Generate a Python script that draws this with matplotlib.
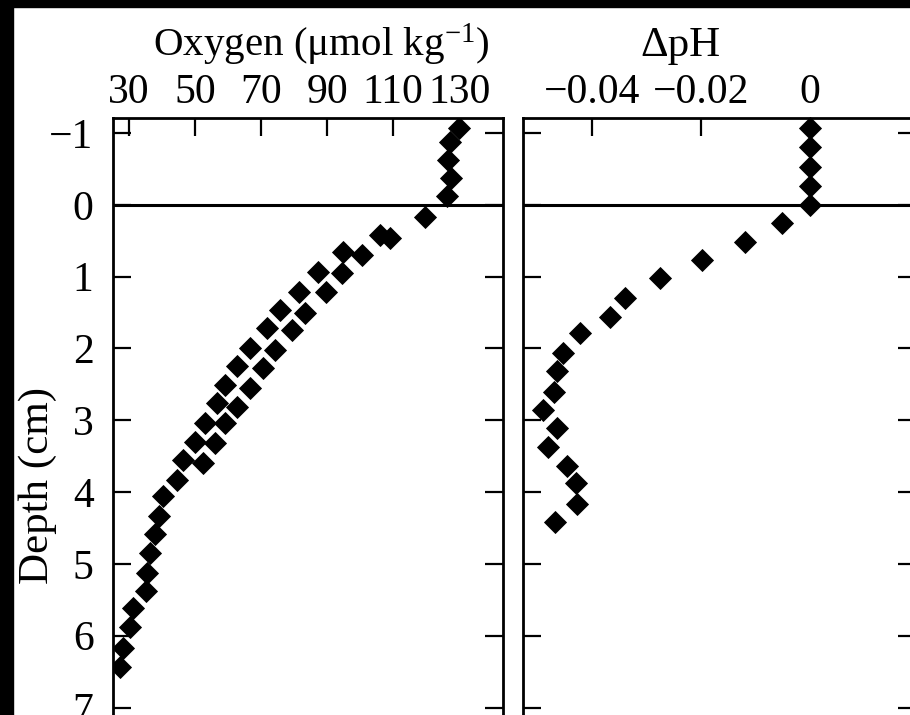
import matplotlib
matplotlib.use("Agg")
import matplotlib.pyplot as plt
from matplotlib.patches import Rectangle

# oxygen profile (two interleaved series, same marker)
depth_o2 = [-1.07, -0.88, -0.63, -0.37, -0.12, 0.17, 0.42, 0.46, 0.65, 0.70,
            0.93, 0.95, 1.21, 1.22, 1.46, 1.51, 1.72, 1.74, 1.99, 2.02,
            2.25, 2.27, 2.51, 2.55, 2.76, 2.81, 3.04, 3.04, 3.30, 3.32,
            3.55, 3.59, 3.83, 4.05, 4.33, 4.58, 4.85, 5.12, 5.38, 5.62,
            5.88, 6.17, 6.44]
oxygen = [130.0, 127.3, 126.6, 127.5, 126.4, 119.7, 106.0, 109.0, 94.8, 100.6,
          87.3, 94.5, 81.5, 89.7, 75.8, 83.3, 71.8, 79.4, 66.7, 74.2,
          62.7, 70.6, 59.1, 66.7, 56.7, 62.7, 53.0, 59.1, 50.0, 56.1,
          46.4, 52.4, 44.5, 40.2, 39.0, 37.9, 36.4, 35.4, 35.0, 31.2,
          30.3, 28.2, 27.3]

# delta pH profile
depth_ph = [-1.07, -0.81, -0.53, -0.26, 0.0, 0.25, 0.51, 0.77, 1.02, 1.29,
            1.56, 1.78, 2.06, 2.32, 2.60, 2.85, 3.11, 3.37, 3.64, 3.88,
            4.16, 4.41]
delta_ph = [0.0, 0.0, 0.0, 0.0, 0.0, -0.0051, -0.0119, -0.0198, -0.0275, -0.034,
            -0.0367, -0.0422, -0.0453, -0.0464, -0.0470, -0.0490, -0.0464, -0.0481,
            -0.0446, -0.0429, -0.0428, -0.0468]

o2_ticks = [30, 50, 70, 90, 110, 130]
ph_ticks = [-0.04, -0.02, 0]
ph_ticklabels = ["\u22120.04", "\u22120.02", "0"]
depth_ticks = [-1, 0, 1, 2, 3, 4, 5, 6, 7]

plt.rcParams["font.family"] = ["Liberation Serif", "DejaVu Serif"]
plt.rcParams["mathtext.fontset"] = "custom"
plt.rcParams["mathtext.rm"] = "Liberation Serif"
plt.rcParams["mathtext.default"] = "regular"

W, H = 910, 715
fig = plt.figure(figsize=(W / 100, H / 100), dpi=100)


def px(x0, y0, x1, y1):
    # pixel box -> figure fraction [left, bottom, width, height]
    return [x0 / W, 1 - y1 / H, (x1 - x0) / W, (y1 - y0) / H]


# the scanned figure is cropped at the bottom, axes run past the edge
ax1 = fig.add_axes(px(113, 118, 503, 854))
ax2 = fig.add_axes(px(523, 118, 916, 854))

ylim = (9.04, -1.21)
fs = 30

for ax in (ax1, ax2):
    ax.set_ylim(*ylim)
    ax.set_yticks(depth_ticks)
    ax.axhline(0, color="black", lw=2.2, zorder=1)
    ax.tick_params(direction="in", length=13, width=1.6, top=True, right=True,
                   bottom=True, left=True, labeltop=True, labelbottom=False,
                   labelsize=fs, pad=4)
    ax.tick_params(axis="y", pad=14)
    for s in ax.spines.values():
        s.set_linewidth(2.0)
    ax.xaxis.set_label_position("top")

ax1.plot(oxygen, depth_o2, linestyle="none", marker="D", ms=11,
         color="black", mew=0.6, zorder=3)
ax1.set_xlim(25.15, 143.3)
ax1.set_xticks(o2_ticks)
ax1.set_xlabel("Oxygen (\u03bcmol kg$^{\u22121}$)", fontsize=29.5)
ax1.xaxis.set_label_coords(321 / W, 1 - 56 / H, transform=fig.transFigure)
ax1.xaxis.label.set_verticalalignment("baseline")
ax1.set_ylabel("Depth (cm)", fontsize=31)
ax1.yaxis.set_label_coords(38 / W, 1 - 486 / H, transform=fig.transFigure)
ax1.yaxis.label.set_verticalalignment("center")

ax2.plot(delta_ph, depth_ph, linestyle="none", marker="D", ms=11,
         color="black", mew=0.6, zorder=3, clip_on=False)
ax2.set_xlim(-0.0527, 0.01945)
ax2.set_xticks(ph_ticks)
ax2.set_xticklabels(ph_ticklabels)
ax2.tick_params(axis="y", labelleft=False)
ax2.set_xlabel("\u0394pH", fontsize=31)
ax2.xaxis.set_label_coords(680 / W, 1 - 56 / H, transform=fig.transFigure)
ax2.xaxis.label.set_verticalalignment("baseline")

# black scan borders
fig.patches.append(Rectangle((0, 1 - 7 / H), 1, 7 / H, transform=fig.transFigure,
                             color="black", zorder=10))
fig.patches.append(Rectangle((0, 0), 13 / W, 1, transform=fig.transFigure,
                             color="black", zorder=10))

fig.savefig("out.png", dpi=100)
